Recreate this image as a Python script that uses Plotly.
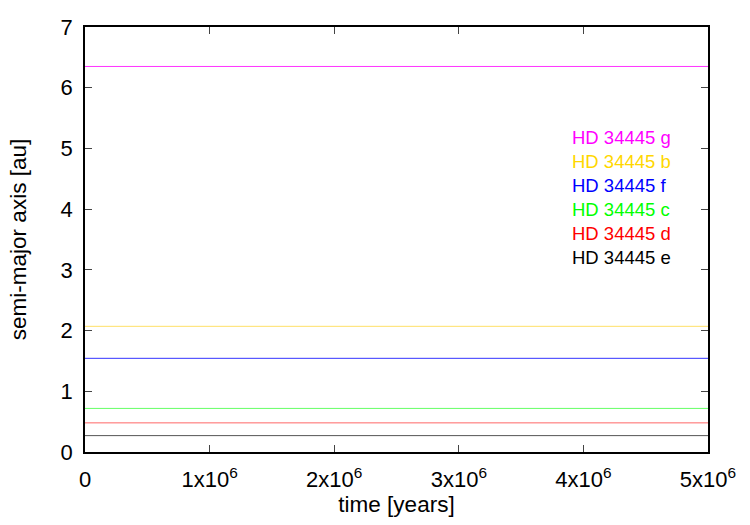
import plotly.graph_objects as go

# data
time_years = [0, 5e6]
planets = ["HD 34445 g", "HD 34445 b", "HD 34445 f", "HD 34445 c", "HD 34445 d", "HD 34445 e"]
semi_major = [6.35, 2.07, 1.543, 0.718, 0.48, 0.27]
colors = ["#ff00ff", "#ffd700", "#0000ff", "#00ff00", "#ff0000", "#000000"]
line_colors = ["#ff33ff", "#ffe066", "#3333ff", "#66ff66", "#ff6666", "#555555"]

xtick_vals = [0, 1e6, 2e6, 3e6, 4e6, 5e6]
xtick_text = ["0", "1x10<sup>6</sup>", "2x10<sup>6</sup>", "3x10<sup>6</sup>", "4x10<sup>6</sup>", "5x10<sup>6</sup>"]
ytick_vals = [0, 1, 2, 3, 4, 5, 6, 7]

fig = go.Figure()
for name, a, lc in zip(planets, semi_major, line_colors):
    fig.add_trace(go.Scatter(x=time_years, y=[a, a], mode="lines", name=name,
                             line=dict(color=lc, width=1), showlegend=False))

# key as coloured text (no line samples)
for i, (name, c) in enumerate(zip(planets, colors)):
    fig.add_annotation(text=name, xref="paper", yref="paper",
                       x=0.779, y=0.741 - i * 0.0565, xanchor="left", yanchor="middle",
                       showarrow=False, font=dict(color=c, size=18.5))

axis_common = dict(showline=True, linecolor="black", linewidth=1.5, mirror="allticks",
                   ticks="inside", ticklen=7, tickcolor="#444", tickwidth=1,
                   showgrid=False, zeroline=False)

fig.update_layout(
    width=750, height=525,
    margin=dict(l=85, r=42, t=27, b=73),
    plot_bgcolor="white", paper_bgcolor="white",
    font=dict(family="Liberation Sans, Arial, sans-serif", color="black", size=22),
    xaxis=dict(range=[0, 5e6], tickvals=xtick_vals, ticktext=xtick_text,
               title=dict(text="time [years]", font=dict(size=22.5), standoff=3),
               ticklabelstandoff=7, **axis_common),
    yaxis=dict(range=[0, 7], tickvals=ytick_vals,
               title=dict(text="semi-major axis [au]", font=dict(size=22.5), standoff=28),
               ticklabelstandoff=6, **axis_common),
)

fig.write_html("out.html")
